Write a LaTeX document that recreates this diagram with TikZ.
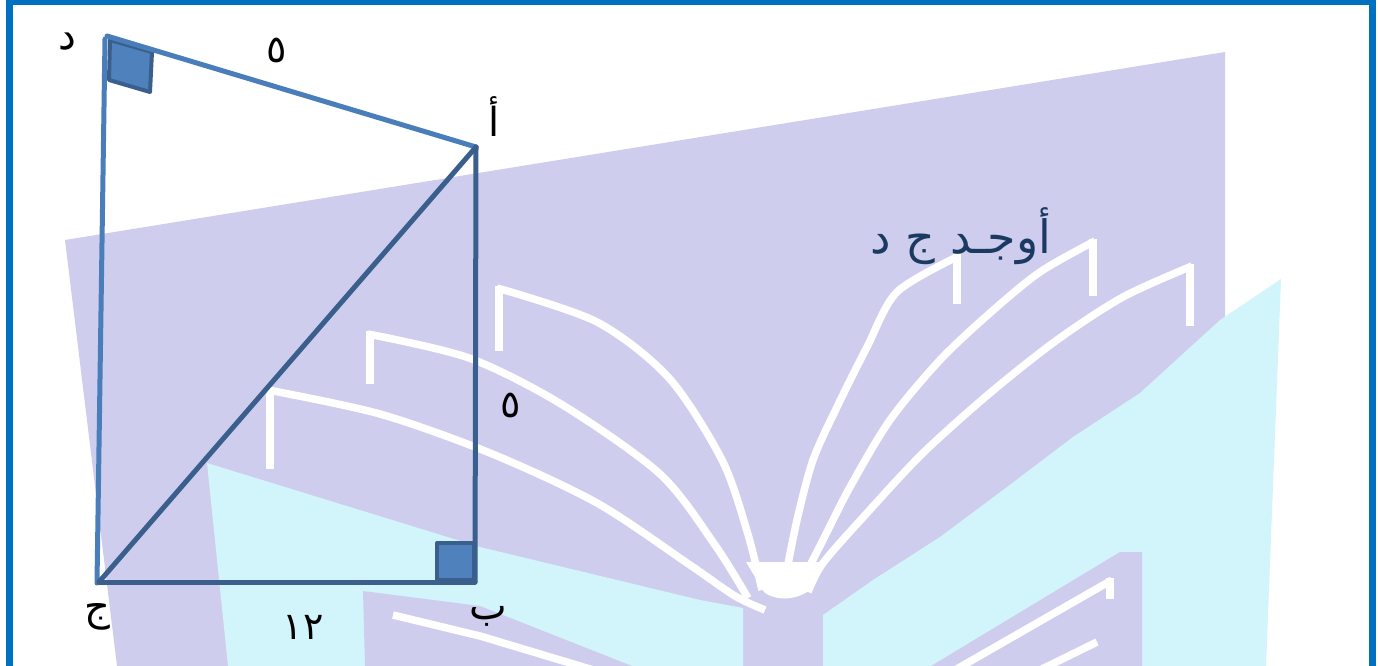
\documentclass[tikz,border=0pt]{standalone}
\usepackage{fontspec}
\newfontfamily\arabicfont[Script=Arabic]{DejaVu Sans}
\newfontfamily\digfont{DejaVu Sans}
\TeXXeTstate=1
\definecolor{framecol}{HTML}{0070C0}
\definecolor{lav}{HTML}{CFCDED}
\definecolor{cya}{HTML}{D2F4FB}
\definecolor{lightline}{HTML}{4A7EBB}
\definecolor{darkline}{HTML}{3A5F8D}
\definecolor{sqfill}{HTML}{4F81BD}
\definecolor{titlecol}{HTML}{1B3A62}
\tikzset{
  fanline/.style={draw=white, line width=7.5, line join=round},
  fanstub/.style={draw=white, line width=7.5, line cap=rect},
  sideA/.style={draw=lightline, line width=5, line cap=round},
  sideB/.style={draw=darkline, line width=5, line cap=round},
  rightsq/.style={fill=sqfill, draw=darkline, line width=4, line join=round},
  lab/.style={font=\arabicfont\fontsize{40}{46}\selectfont, text=black, inner sep=0pt},
  num/.style={font=\digfont\fontsize{38}{44}\selectfont, text=black, inner sep=0pt},
  titletext/.style={font=\arabicfont\fontsize{46}{54}\selectfont, text=titlecol, inner sep=0pt}
}
\begin{document}
\begin{tikzpicture}[x=1pt,y=-1pt]
\useasboundingbox (0,0) rectangle (1378,666);
\fill[white] (0,0) rectangle (1378,666);
% watermark
\fill[lav] (65,240) -- (1225,52) -- (1225,420) -- (1120,666) -- (117,666) -- cycle;
\fill[cya] (207,463) -- (480,547) -- (700,600) -- (743,608) -- (743,666) -- (228,666) -- cycle;
\fill[cya] (823,615) -- (873,580) -- (940,537) -- (1007,487) -- (1073,437) -- (1140,393) -- (1220,320) -- (1281,279) -- (1266,666) -- (823,666) -- cycle;
\fill[lav] (363,591) -- (480,606) -- (632,666) -- (365,666) -- cycle;
\fill[lav] (1120,552) -- (1142,552) -- (1142,666) -- (931,666) -- cycle;
% fan
\draw[fanstub] (270,465) -- (270,392);
\draw[fanline] plot[smooth] coordinates {(268,390) (380,414) (490,453) (597,503) (690,565) (735,596) (765,610)};
\draw[fanstub] (370,380) -- (370,335);
\draw[fanline] plot[smooth] coordinates {(368,334) (469,358) (561,404) (660,474) (715,545) (748,598)};
\draw[fanstub] (499,347) -- (499,290);
\draw[fanline] plot[smooth] coordinates {(497,288) (597,322) (669,378) (722,460) (747,531) (762,590)};
\draw[fanstub] (957,300) -- (957,258);
\draw[fanline] plot[smooth] coordinates {(959,256) (897,292) (867,347) (837,407) (813,460) (797,520) (785,580)};
\draw[fanstub] (1093,292) -- (1093,243);
\draw[fanline] plot[smooth] coordinates {(1095,241) (1040,272) (990,313) (940,360) (890,420) (850,487) (823,540) (800,585)};
\draw[fanstub] (1190,322) -- (1190,268);
\draw[fanline] plot[smooth] coordinates {(1192,266) (1123,297) (1057,340) (990,393) (923,453) (867,513) (823,563) (808,592)};
\fill[white] (746,562) -- (826,562) -- (812,588) .. controls (800,600) and (776,602) .. (764,592) -- cycle;
\draw[fanline] (393,615) -- (480,636) -- (600,672);
\draw[fanstub] (1110,582) -- (1110,595);
\draw[fanline] (1112,580) -- (955,670);
\draw[fanline] (1097,642) -- (1040,670);
% frame
\draw[framecol, line width=7] (9.5,2) rectangle (1372.5,720);
% triangle vertices
\coordinate (D) at (107,36);
\coordinate (A) at (476,147);
\coordinate (B) at (475,582);
\coordinate (C) at (99,582);
\coordinate (Dl) at (105,39);
\coordinate (Cl) at (97,583);
% right-angle squares
\filldraw[rightsq] (110,40) -- (152,52) -- (150,92) -- (109,80) -- cycle;
\filldraw[rightsq] (437,543) rectangle (474,580);
% sides
\draw[sideA] (D) -- (A);
\draw[sideA] (Dl) -- (Cl);
\draw[sideB] (C) -- (A);
\draw[sideB] (A) -- (B);
\draw[sideB] (C) -- (B);
% labels
\node[lab] (lD) at (67,42) {د};
\node[num] (lDA) at (277,50) {٥};
\node[lab] (lA) at (494,117) {أ};
\node[num] (lAB) at (511,405) {٥};
\node[lab] (lC) at (97,617) {ج};
\node[num] (lCB) at (303,627) {١٢};
\node[lab] (lB) at (488,616) {ب};
\node[titletext] (title) at (961,236) {\beginR أوجـد ج د\endR};
\end{tikzpicture}
\end{document}
